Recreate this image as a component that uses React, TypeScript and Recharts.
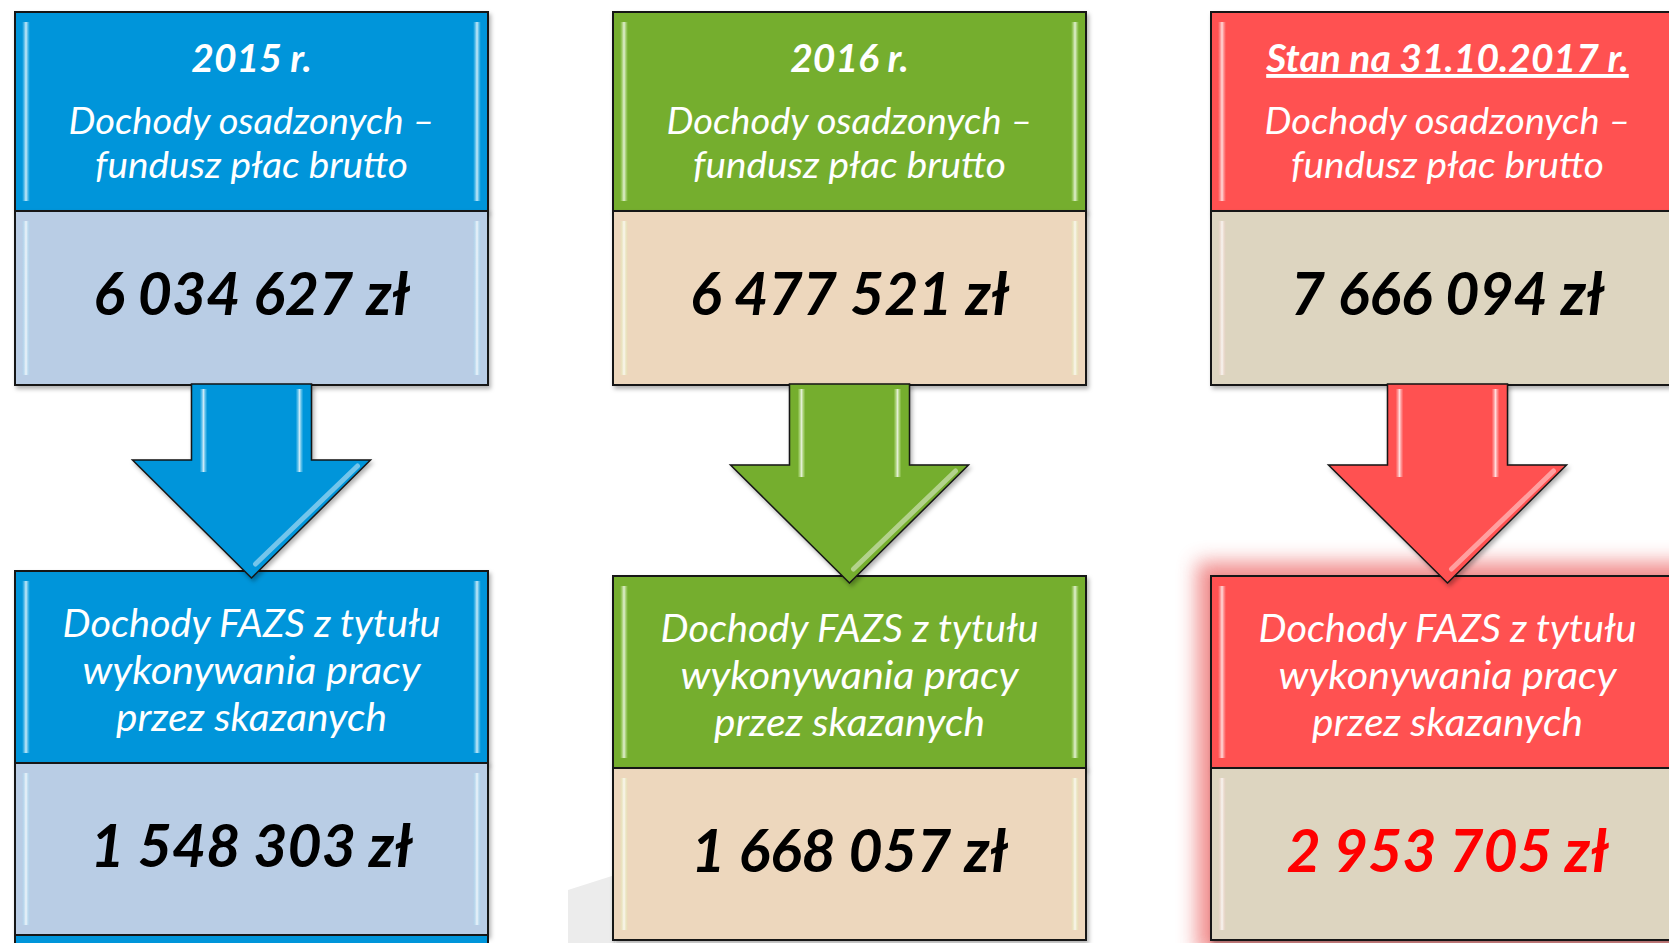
import { BarChart, Bar, XAxis, YAxis } from 'recharts'

// income of inmates vs. FAZS income, per period
const periods = ['2015 r.', '2016 r.', 'Stan na 31.10.2017 r.']
const wageFund = [6034627, 6477521, 7666094]
const fazsIncome = [1548303, 1668057, 2953705]
const wageLabel = ['Dochody osadzonych –', 'fundusz płac brutto']
const fazsLabel = ['Dochody FAZS z tytułu', 'wykonywania pracy', 'przez skazanych']

// widths of the caption lines as set in the slide
const wageLabelWidth = [366, 313]
const fazsLabelWidth = [378, 338, 271]

const themes = [
  { head: '#0095DA', body: '#B9CDE5', shine: '#8EE0FB', amount: '#000000', shift: -5, underline: false, glow: false, tail: true },
  { head: '#74AE2E', body: '#EDD7BD', shine: '#D4F7A0', amount: '#000000', shift: 0, underline: false, glow: false, tail: false },
  { head: '#FF5151', body: '#DDD5C0', shine: '#FFC9C9', amount: '#FF0000', shift: 0, underline: true, glow: true, tail: false },
]

const data = periods.map((period, i) => ({
  period,
  wage: wageFund[i],
  fazs: fazsIncome[i],
  column: 1,
}))

const FONT = 'Lato, "Open Sans", sans-serif'
const fmt = (v: number) => String(v).replace(/\B(?=(\d{3})+(?!\d))/g, ' ') + ' zł'

function Box({ bx, by, bw, bh, fill, grad, shadow }: any) {
  return (
    <g filter={shadow}>
      <rect x={bx} y={by} width={bw} height={bh} fill={fill} stroke="#161616" strokeWidth={2} />
      <rect x={bx + 7} y={by + 10} width={8} height={bh - 20} fill={`url(#${grad})`} />
      <rect x={bx + bw - 15} y={by + 10} width={8} height={bh - 20} fill={`url(#${grad})`} />
    </g>
  )
}

function Panel(props: any) {
  const { x, y, width, payload, index } = props
  const t = themes[index]
  const cx = x + width / 2
  const s = t.shift
  const top = y + 12
  const mid = y + 211
  const bot = y + 385
  const top2 = y + 576 + s
  const mid2 = y + 768 + s
  const bot2 = y + 940 + s
  const headY = y + 465 + s
  const tipY = y + 583 + s
  const grad = `sh${index}`
  const shadow = `url(#sd${index})`
  const white = { fill: '#fff', fontFamily: FONT, fontStyle: 'italic' as const, textAnchor: 'middle' as const }
  const arrow = [
    [cx - 60, bot - 1], [cx + 60, bot - 1], [cx + 60, headY], [cx + 119, headY],
    [cx, tipY], [cx - 119, headY], [cx - 60, headY],
  ].map((p) => p.join(',')).join(' ')

  return (
    <g>
      <defs>
        <linearGradient id={grad} x1="0" y1="0" x2="1" y2="0">
          <stop offset="0" stopColor={t.shine} stopOpacity={0} />
          <stop offset="0.5" stopColor="#ffffff" stopOpacity={0.8} />
          <stop offset="1" stopColor={t.shine} stopOpacity={0} />
        </linearGradient>
        <filter id={`sd${index}`} x="-10%" y="-10%" width="120%" height="120%">
          <feDropShadow dx="2" dy="3" stdDeviation="2" floodColor="#000" floodOpacity="0.3" />
        </filter>
        <filter id={`gl${index}`} x="-30%" y="-30%" width="160%" height="160%">
          <feGaussianBlur stdDeviation="10" />
        </filter>
      </defs>

      {index === 1 && (
        <polygon points={`${x - 45},${y + 890} ${x + 2},${y + 875} ${x + 2},${y + 943} ${x - 45},${y + 943}`} fill="#ECECEC" />
      )}

      <Box bx={x} by={top} bw={width} bh={mid - top} fill={t.head} grad={grad} shadow={shadow} />
      <Box bx={x} by={mid} bw={width} bh={bot - mid} fill={t.body} grad={grad} shadow={shadow} />

      <text {...white} x={cx} y={y + 72} fontWeight={700} fontSize={39} textDecoration={t.underline ? 'underline' : undefined}>
        {payload.period}
      </text>
      {wageLabel.map((line, i) => (
        <text key={line} {...white} x={cx} y={y + 134 + i * 44} fontSize={37}
          textLength={wageLabelWidth[i]} lengthAdjust="spacingAndGlyphs">{line}</text>
      ))}
      <text x={cx} y={y + 315} textAnchor="middle" fontFamily={FONT} fontStyle="italic" fontWeight={700} fontSize={59} fill="#000">
        {fmt(payload.wage)}
      </text>

      {t.glow && (
        <rect x={x - 14} y={top2 - 14} width={width + 28} height={bot2 - top2 + 28} fill="#EF8080" opacity={0.9} filter={`url(#gl${index})`} />
      )}
      <Box bx={x} by={top2} bw={width} bh={mid2 - top2} fill={t.head} grad={grad} shadow={shadow} />
      <Box bx={x} by={mid2} bw={width} bh={bot2 - mid2} fill={t.body} grad={grad} shadow={shadow} />
      {t.tail && <Box bx={x} by={bot2} bw={width} bh={40} fill={t.head} grad={grad} />}

      {fazsLabel.map((line, i) => (
        <text key={line} {...white} x={cx} y={y + 642 + s + i * 47} fontSize={39}
          textLength={fazsLabelWidth[i]} lengthAdjust="spacingAndGlyphs">{line}</text>
      ))}
      <text x={cx} y={y + 872 + s} textAnchor="middle" fontFamily={FONT} fontStyle="italic" fontWeight={700} fontSize={59} fill={t.amount}>
        {fmt(payload.fazs)}
      </text>

      <g filter={shadow}>
        <polygon points={arrow} fill={t.head} stroke="#161616" strokeWidth={1.5} strokeLinejoin="miter" />
      </g>
      <rect x={cx - 52} y={bot + 4} width={8} height={headY - bot + 8} fill={`url(#${grad})`} />
      <rect x={cx + 44} y={bot + 4} width={8} height={headY - bot + 8} fill={`url(#${grad})`} />
      <line x1={cx + 106} y1={headY + 6} x2={cx + 4} y2={tipY - 14} stroke="#ffffff" strokeOpacity={0.45} strokeWidth={5} strokeLinecap="round" />
    </g>
  )
}

export default function App() {
  return (
    <div style={{ position: 'absolute', left: 0, top: 0, width: 1669, height: 943, background: '#fff', overflow: 'hidden' }}>
      <BarChart width={1669} height={943} data={data} margin={{ top: 0, right: -77, bottom: 0, left: -48 }}>
        <XAxis dataKey="period" hide />
        <YAxis hide domain={[0, 1]} />
        <Bar dataKey="column" barSize={473} shape={Panel} isAnimationActive={false} />
      </BarChart>
    </div>
  )
}
